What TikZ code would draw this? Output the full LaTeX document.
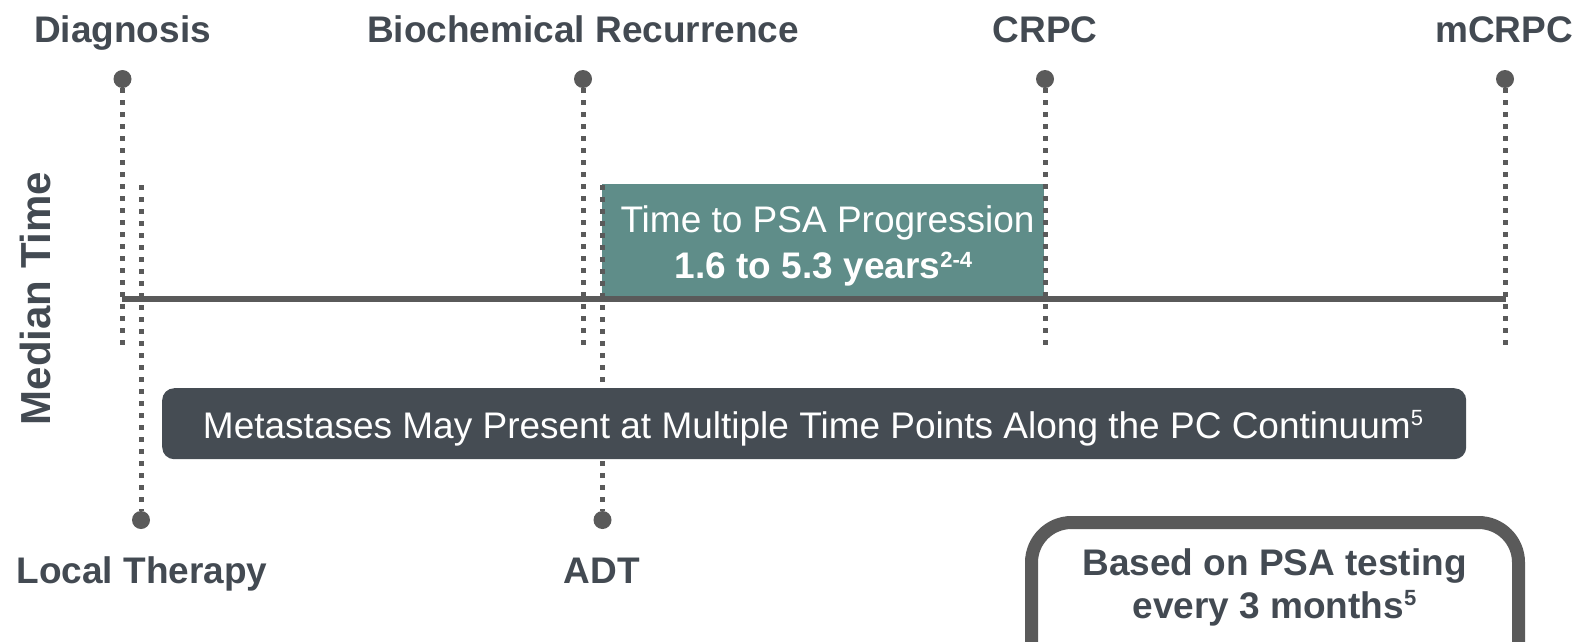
\documentclass[tikz,border=0pt]{standalone}
\usepackage{fontspec}
\setmainfont{Liberation Sans}
\definecolor{textc}{RGB}{67,74,82}
\definecolor{tealbox}{RGB}{95,141,137}
\definecolor{darkbox}{RGB}{69,76,83}
\definecolor{linegray}{RGB}{90,90,90}
\newcommand\supnum[2][12pt]{\raisebox{#1}{\fontsize{22}{22}\selectfont #2}}
\begin{document}
\begin{tikzpicture}[x=1pt,y=-1pt,
  dotline/.style={draw=linegray, line width=5pt, dash pattern=on 5pt off 7pt},
  dotc/.style={circle, fill=linegray, inner sep=0pt, minimum size=18pt},
  toplabel/.style={font=\fontsize{37}{44}\selectfont\bfseries, text=textc, anchor=base, inner sep=0pt},
  wtext/.style={text=white, anchor=base, inner sep=0pt},
  btext/.style={font=\fontsize{37}{44}\selectfont\bfseries, text=textc, anchor=base, inner sep=0pt}]
\useasboundingbox (0,0) rectangle (1581,641);
\clip (0,0) rectangle (1581,641);
% labels
\node[toplabel] (ldiag) at (122.5,42.5) {Diagnosis};
\node[toplabel] (lbio) at (583,42.5) {Biochemical Recurrence};
\node[toplabel] (lcrpc) at (1045,42.5) {CRPC};
\node[toplabel] (lmcrpc) at (1504,42.5) {mCRPC};
\node[toplabel] (llt) at (142,583) {Local Therapy};
\node[toplabel] (ladt) at (602,583) {ADT};
\node[toplabel, font=\fontsize{42}{48}\selectfont\bfseries, rotate=90] (lmed) at (50,298.5) {Median Time};
% teal box
\node[fill=tealbox, minimum width=442pt, minimum height=113pt, inner sep=0pt, anchor=north west] (psa) at (602,184) {};
\node[wtext, font=\fontsize{37}{44}\selectfont] (psa1) at (827.5,232.7) {Time to PSA Progression};
\node[wtext, font=\fontsize{37}{44}\selectfont\bfseries] (psa2) at (823.5,278) {1.6 to 5.3 years\supnum[11pt]{2-4}};
% dots
\node[dotc] (d1) at (122.5,79) {};
\node[dotc] (d2) at (583,79) {};
\node[dotc] (d3) at (1045,79) {};
\node[dotc] (d4) at (1505,79) {};
\coordinate (e1) at (122.5,345);
\coordinate (e2) at (583,345);
\coordinate (e3) at (1045,345);
\coordinate (e4) at (1505,345);
\draw[dotline] (d1.south) -- (e1);
\draw[dotline] (d2.south) -- (e2);
\draw[dotline] (d3.south) -- (e3);
\draw[dotline] (d4.south) -- (e4);
\node[dotc] (b1) at (141,520) {};
\node[dotc] (b2) at (602.5,520) {};
\coordinate (s1) at (141,185);
\coordinate (s2) at (602.5,185);
\draw[dotline] (s1) -- (b1.north);
\draw[dotline] (s2) -- (b2.north);
% timeline
\coordinate (hl) at (122,299);
\coordinate (hr) at (1506,299);
\draw[line width=6pt, linegray] (hl) -- (hr);
% metastases box
\node[fill=darkbox, rounded corners=12pt, minimum width=1304pt, minimum height=71pt, inner sep=0pt, anchor=north west] (meta) at (162,388) {};
\node[wtext, font=\fontsize{37}{44}\selectfont] (metat) at (813,438) {Metastases May Present at Multiple Time Points Along the PC Continuum\supnum[13pt]{5}};
% note box
\node[draw=linegray, line width=13pt, rounded corners=40pt, minimum width=487pt, minimum height=300pt, inner sep=0pt, anchor=north west] (note) at (1025,516) {};
\node[btext] (note1) at (1274.5,575) {Based on PSA testing};
\node[btext] (note2) at (1274.5,618) {every 3 months\supnum[13pt]{5}};
\end{tikzpicture}
\end{document}
